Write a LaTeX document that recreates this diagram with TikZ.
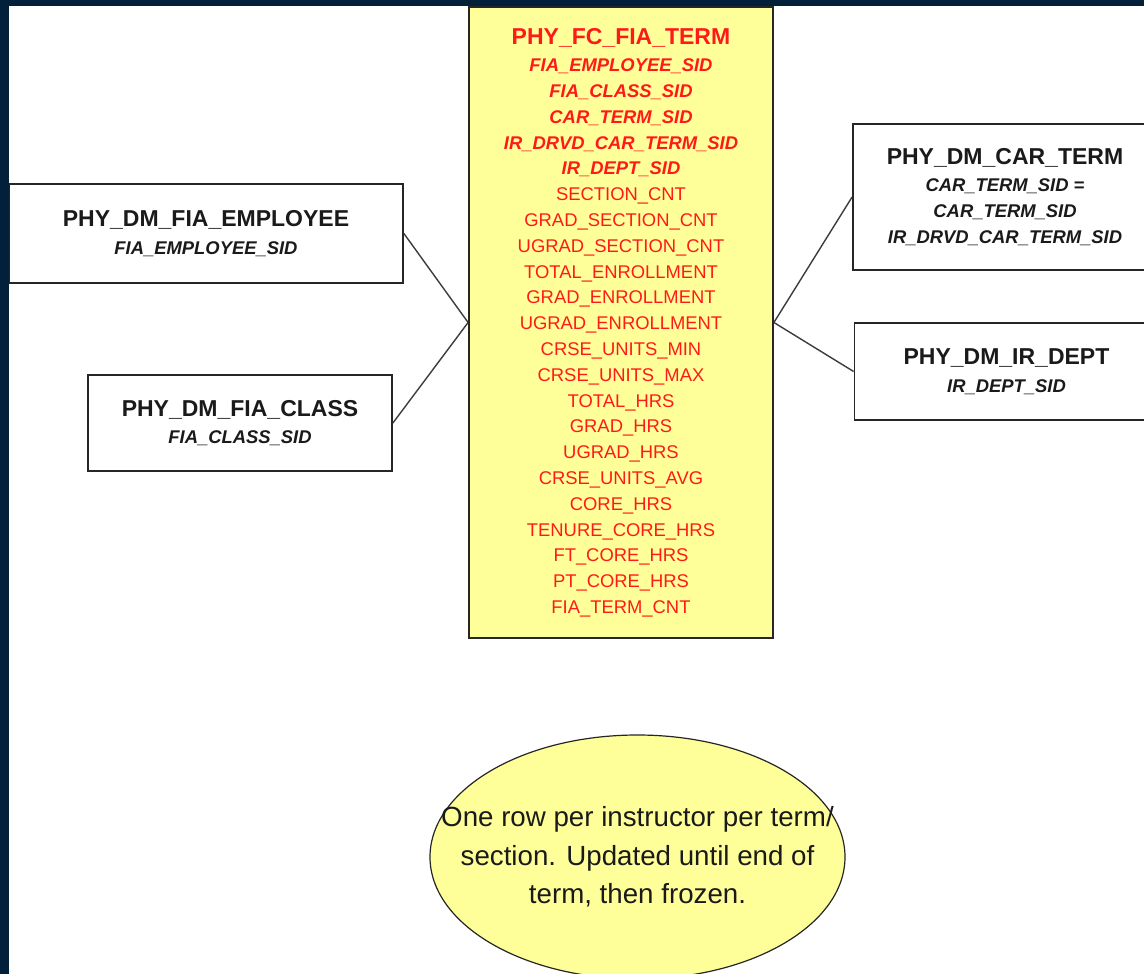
\documentclass[tikz,border=0pt]{standalone}
\usepackage{fontspec}
\setmainfont{Liberation Sans}
\usetikzlibrary{shapes.geometric}
\definecolor{navy}{HTML}{02203A}
\definecolor{facty}{HTML}{FFFF99}
\definecolor{fieldred}{HTML}{FF1A1A}
\definecolor{edgegray}{HTML}{262626}
\definecolor{inkblack}{HTML}{1A1A1A}
\newcommand\boxtitle[1]{{\fontsize{23}{25.8}\selectfont\bfseries\upshape #1}}
\newcommand\keyfield[1]{{\bfseries\itshape #1}}
\begin{document}
\begin{tikzpicture}[x=1pt,y=-1pt,
  dimbox/.style={draw=edgegray, line width=1.8pt, fill=white, inner sep=0pt,
    align=center, text=inkblack, minimum height=#1,
    font=\fontsize{18.4}{25.8}\selectfont\bfseries\itshape},
  factbox/.style={draw=edgegray, line width=1.8pt, fill=facty, inner sep=0pt,
    align=center, text=fieldred, minimum width=304pt, minimum height=631pt,
    font=\fontsize{18.4}{25.8}\selectfont},
  notebubble/.style={ellipse, draw=edgegray, line width=1.2pt, fill=facty, inner sep=0pt,
    minimum width=415pt, minimum height=244pt},
  notetext/.style={inner sep=0pt, align=center, text=inkblack,
    font=\fontsize{27.7}{38.5}\selectfont},
  conn/.style={draw=edgegray!90, line width=1.4pt}]
\useasboundingbox (0,0) rectangle (1144,974);
\fill[navy] (0,0) rectangle (1144,974);
\fill[white] (9,6) rectangle (1144,974);
\begin{scope}
\clip (9,6) rectangle (1144,974);

\node[factbox] (fact) at (621,322.5) {%
\boxtitle{PHY\_FC\_FIA\_TERM}\\[1.8pt]
\keyfield{FIA\_EMPLOYEE\_SID}\\
\keyfield{FIA\_CLASS\_SID}\\
\keyfield{CAR\_TERM\_SID}\\
\keyfield{IR\_DRVD\_CAR\_TERM\_SID}\\
\keyfield{IR\_DEPT\_SID}\\
SECTION\_CNT\\
GRAD\_SECTION\_CNT\\
UGRAD\_SECTION\_CNT\\
TOTAL\_ENROLLMENT\\
GRAD\_ENROLLMENT\\
UGRAD\_ENROLLMENT\\
CRSE\_UNITS\_MIN\\
CRSE\_UNITS\_MAX\\
TOTAL\_HRS\\
GRAD\_HRS\\
UGRAD\_HRS\\
CRSE\_UNITS\_AVG\\
CORE\_HRS\\
TENURE\_CORE\_HRS\\
FT\_CORE\_HRS\\
PT\_CORE\_HRS\\
FIA\_TERM\_CNT};

\node[dimbox=99pt, minimum width=394pt] (emp) at (206,233.5)
  {\boxtitle{PHY\_DM\_FIA\_EMPLOYEE}\\[1.8pt] FIA\_EMPLOYEE\_SID};
\node[dimbox=96pt, minimum width=304pt] (cls) at (240,423)
  {\boxtitle{PHY\_DM\_FIA\_CLASS}\\[1.8pt] FIA\_CLASS\_SID};
\node[dimbox=146pt, minimum width=304pt] (car) at (1005,197)
  {\boxtitle{PHY\_DM\_CAR\_TERM}\\[1.6pt] CAR\_TERM\_SID =\\ CAR\_TERM\_SID\\ IR\_DRVD\_CAR\_TERM\_SID};
\node[dimbox=97pt, minimum width=304pt] (dept) at (1006.5,371.5)
  {\boxtitle{PHY\_DM\_IR\_DEPT}\\[1.8pt] IR\_DEPT\_SID};

\draw[conn] (emp.east) -- (fact.west);
\draw[conn] (cls.east) -- (fact.west);
\draw[conn] (fact.east) -- (car.west);
\draw[conn] (fact.east) -- (dept.west);

\node[notebubble] (note) at (637.5,857) {};
\node[notetext] (notelabel) at (note.center)
  {One row per instructor per term/\\ section. Updated until end of\\ term, then frozen.};
\end{scope}
\end{tikzpicture}
\end{document}
